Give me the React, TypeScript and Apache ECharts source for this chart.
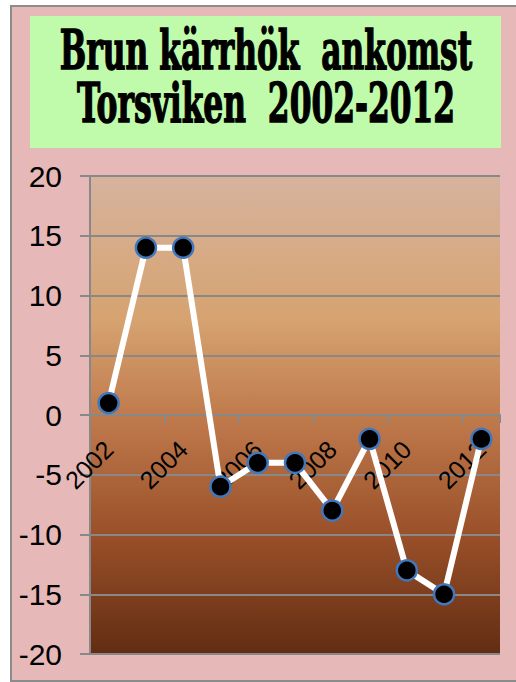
import React, { useEffect, useRef } from "react";
import * as echarts from "echarts";

const years = ["2002", "2003", "2004", "2005", "2006", "2007", "2008", "2009", "2010", "2011", "2012"];
const arrival = [1, 14, 14, -6, -4, -4, -8, -2, -13, -15, -2];
const titleLines = ["Brun kärrhök  ankomst", "Torsviken  2002-2012"];
const yMin = -20;
const yMax = 20;
const yStep = 5;

export default function App() {
  const ref = useRef<HTMLDivElement>(null);
  useEffect(() => {
    document.body.style.margin = "0";
    const chart = echarts.init(ref.current!, null, { renderer: "svg" });
    const titleFont = 'bold 54px "DejaVu Serif", serif';
    const gridTop = 176;
    const gridBottom = 28;
    const gridHeight = 682 - gridTop - gridBottom;
    const zeroOffset = -gridHeight * (0 - yMin) / (yMax - yMin);
    chart.setOption({
      animation: false,
      backgroundColor: "#ffffff",
      graphic: [
        {
          type: "rect",
          z: -10,
          shape: { x: 11, y: 6, width: 520, height: 675 },
          style: { fill: "#e6b8b7", stroke: "#8c8c8c", lineWidth: 2 },
        },
        {
          type: "rect",
          z: -9,
          shape: { x: 30, y: 16, width: 471, height: 132 },
          style: { fill: "#bffbaa" },
        },
        {
          type: "text",
          x: 266,
          y: 50,
          scaleX: 0.58,
          style: {
            text: titleLines[0],
            font: titleFont,
            fill: "#000000",
            stroke: "#000000",
            lineWidth: 1.5,
            textAlign: "center",
            textVerticalAlign: "middle",
          },
        },
        {
          type: "text",
          x: 266,
          y: 103,
          scaleX: 0.58,
          style: {
            text: titleLines[1],
            font: titleFont,
            fill: "#000000",
            stroke: "#000000",
            lineWidth: 1.5,
            textAlign: "center",
            textVerticalAlign: "middle",
          },
        },
      ],
      grid: {
        left: 90,
        right: 16,
        top: gridTop,
        bottom: gridBottom,
        show: true,
        borderWidth: 0,
        containLabel: false,
        outerBoundsMode: "none",
        backgroundColor: new echarts.graphic.LinearGradient(0, 0, 0, 1, [
          { offset: 0, color: "#d6b39e" },
          { offset: 0.3, color: "#d6a370" },
          { offset: 0.5, color: "#c07b4d" },
          { offset: 0.75, color: "#9a5029" },
          { offset: 1, color: "#622d13" },
        ]),
      },
      xAxis: {
        type: "category",
        data: years,
        boundaryGap: true,
        position: "bottom",
        offset: zeroOffset,
        axisLine: { show: true, onZero: false, lineStyle: { color: "#888888", width: 2 } },
        axisTick: { show: true, interval: 1, length: 8, lineStyle: { color: "#888888", width: 2 } },
        axisLabel: {
          interval: 1,
          rotate: 45,
          fontSize: 25,
          fontFamily: '"Liberation Sans", Arial, sans-serif',
          color: "#000000",
          margin: 30,
        },
        splitLine: { show: false },
      },
      yAxis: {
        type: "value",
        min: yMin,
        max: yMax,
        interval: yStep,
        axisLine: { show: true, lineStyle: { color: "#888888", width: 2 } },
        axisTick: { show: true, length: 10, lineStyle: { color: "#888888", width: 2 } },
        axisLabel: {
          fontSize: 30,
          fontFamily: '"Liberation Sans", Arial, sans-serif',
          color: "#000000",
          margin: 28,
        },
        splitLine: { show: true, lineStyle: { color: "#888888", width: 2 } },
      },
      series: [
        {
          type: "line",
          data: arrival,
          symbol: "circle",
          symbolSize: 20,
          z: 5,
          lineStyle: { color: "#ffffff", width: 6 },
          itemStyle: { color: "#000000", borderColor: "#4177bb", borderWidth: 2.5 },
        },
      ],
    });
    return () => chart.dispose();
  }, []);
  return <div ref={ref} style={{ width: 516, height: 682 }} />;
}
